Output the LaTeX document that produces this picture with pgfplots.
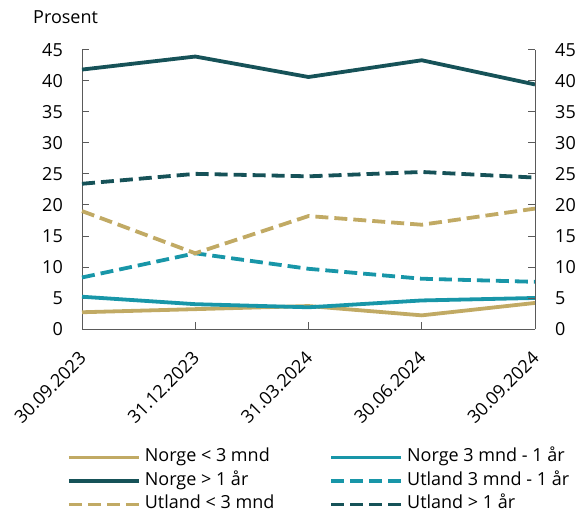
\documentclass[border=0pt]{standalone}
\usepackage{pgfplots}
\pgfplotsset{compat=1.18}
\usepackage{fontspec}
\setmainfont{Open Sans}
\definecolor{ctan}{RGB}{193,170,100}
\definecolor{cteal}{RGB}{24,150,168}
\definecolor{cdark}{RGB}{22,82,88}
\definecolor{caxis}{RGB}{90,90,90}
\newcommand{\fs}{\fontsize{18bp}{21bp}\selectfont}
\begin{document}
\fs
\begin{tikzpicture}
\pgfplotsset{
  base/.style={
    scale only axis, width=453bp, height=279.3bp,
    xmin=0, xmax=4, ymin=0, ymax=45,
    ytick={0,5,...,45},
    tick align=inside, major tick length=7bp,
    every tick/.style={caxis, line width=0.8bp},
    axis line style={caxis, line width=0.8bp},
    /pgf/number format/assume math mode=true,
    tick label style={font=\fs, black},
  }
}
\begin{axis}[base,
  axis x line*=bottom, axis y line*=left,
  xtick={0,1,2,3,4},
  xticklabels={30.09.2023,31.12.2023,31.03.2024,30.06.2024,30.09.2024},
  x tick label style={xshift=-4bp, yshift=-21bp, rotate=45, anchor=north east, inner sep=0bp},
  yticklabel style={anchor=east, inner sep=0bp, xshift=-19bp},
  legend columns=2,
  legend cell align=left,
  legend style={draw=none, at={(axis description cs:-0.0331,-0.4296)}, anchor=north west,
    font=\fs, inner sep=0pt, outer sep=0pt,
    nodes={inner sep=0bp, text height=13bp, text depth=4bp},
    row sep=6.5bp,
    /tikz/column 1/.style={column sep=4bp},
    /tikz/column 2/.style={column sep=55bp},
    /tikz/column 3/.style={column sep=4bp}},
  legend image code/.code={\draw[#1] (0bp,0bp) -- (70bp,0bp);},
  every axis plot/.append style={line width=3.8bp},
  clip=false,
]
\addplot[ctan] coordinates {(0,2.7) (1,3.2) (2,3.7) (3,2.2) (4,4.2)};
\addlegendentry{Norge < 3 mnd}
\addplot[cteal] coordinates {(0,5.2) (1,4.0) (2,3.5) (3,4.6) (4,5.0)};
\addlegendentry{Norge 3 mnd - 1 år}
\addplot[cdark] coordinates {(0,41.8) (1,43.9) (2,40.6) (3,43.3) (4,39.4)};
\addlegendentry{Norge > 1 år}
\addplot[cteal, dash pattern=on 13bp off 6bp] coordinates {(0,8.3) (1,12.2) (2,9.7) (3,8.1) (4,7.6)};
\addlegendentry{Utland 3 mnd - 1 år}
\addplot[ctan, dash pattern=on 13bp off 6bp] coordinates {(0,19.0) (1,12.2) (2,18.2) (3,16.8) (4,19.4)};
\addlegendentry{Utland < 3 mnd}
\addplot[cdark, dash pattern=on 13bp off 6bp] coordinates {(0,23.4) (1,25.0) (2,24.6) (3,25.3) (4,24.4)};
\addlegendentry{Utland > 1 år}
\node[anchor=base west, inner sep=0pt] at ([xshift=-49bp, yshift=26.4bp]rel axis cs:0,1) {Prosent};
\path ([xshift=-82bp,yshift=-185bp]rel axis cs:0,0) ([xshift=51bp,yshift=49.7bp]rel axis cs:1,1);
\end{axis}
\begin{axis}[base,
  axis x line=none, axis y line*=right,
  xtick=\empty,
  yticklabel style={anchor=west, inner sep=0bp, xshift=20bp},
]
\end{axis}
\end{tikzpicture}
\end{document}
